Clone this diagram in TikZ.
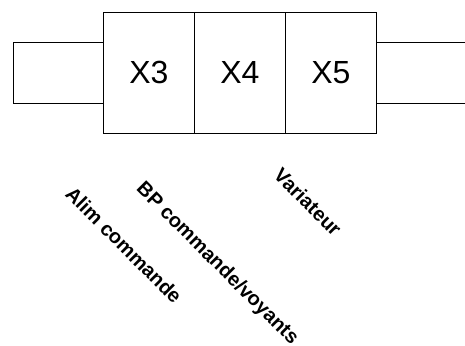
\documentclass[tikz,border=0pt]{standalone}
\usepackage{fontspec}
\setmainfont{Liberation Sans}
\begin{document}
\begin{tikzpicture}[x=1pt,y=-1pt,
  conn/.style={draw=black,line width=0.9pt,minimum width=91pt,minimum height=121pt,inner sep=0pt,font=\fontsize{32}{36}\selectfont,anchor=north west},
  wire/.style={line width=0.9pt},
  lbl/.style={rotate=-45,font=\bfseries\fontsize{20}{24}\selectfont,inner sep=0pt}]
\useasboundingbox (0,0) rectangle (465,345);
\node[conn] (x3) at (103,12) {X3};
\node[conn] (x4) at (194,12) {X4};
\node[conn] (x5) at (285,12) {X5};
\coordinate (la) at (13,42);
\coordinate (lb) at (13,103);
\coordinate (ra) at (465,42);
\coordinate (rb) at (465,103);
\draw[wire] (x3.west |- la) -- (la) -- (lb) -- (x3.west |- lb);
\draw[wire] (x5.east |- ra) -- (ra);
\draw[wire] (x5.east |- rb) -- (rb);
\node[lbl] (alim) at (124,245) {Alim commande};
\node[lbl] (bp) at (217,264) {BP commande/voyants};
\node[lbl] (var) at (308,202) {Variateur};
\end{tikzpicture}
\end{document}
